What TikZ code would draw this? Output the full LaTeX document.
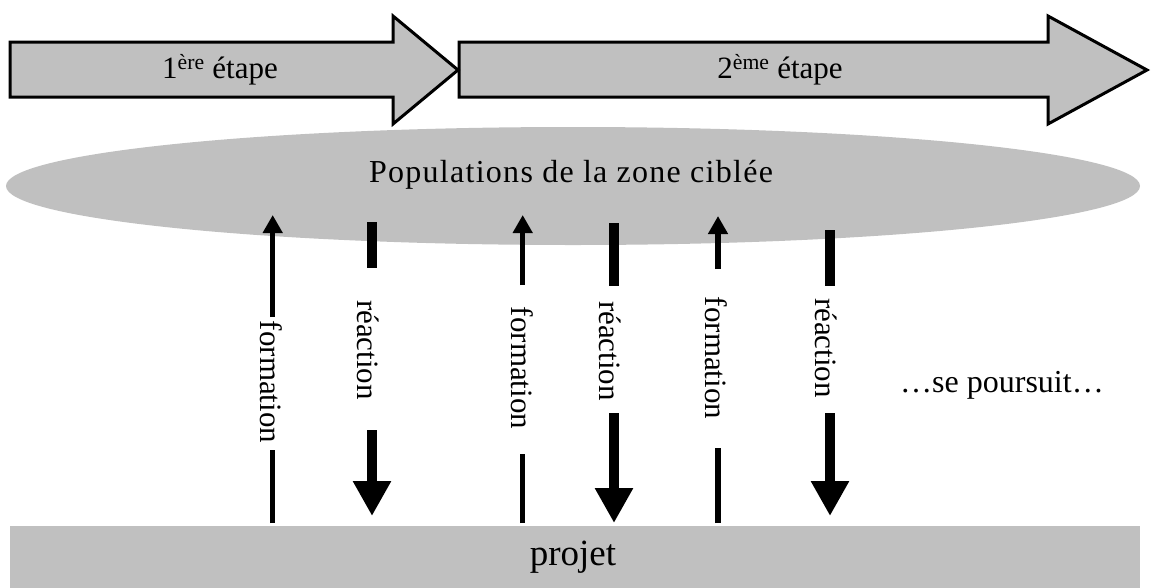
\documentclass[tikz,border=0pt]{standalone}
\usepackage{fontspec}
\setmainfont{Liberation Serif}
\usetikzlibrary{arrows.meta,calc}
\definecolor{stepgray}{RGB}{192,192,192}
\begin{document}
\begin{tikzpicture}[x=1pt,y=-1pt,
  stepshape/.style={draw=black,line width=3pt,fill=stepgray,line join=miter},
  lbl/.style={font=\fontsize{31}{37}\selectfont,inner sep=0pt},
  vlbl/.style={lbl,rotate=-90},
  formline/.style={line width=5.5pt},
  formarrow/.style={formline,-{Triangle[length=18pt,width=19pt]}},
  reacline/.style={line width=10pt},
  reacarrow/.style={reacline,-{Triangle[length=35pt,width=36pt]}}]
\useasboundingbox (0,0) rectangle (1151,587);
% background shapes
\fill[stepgray] (573,186) ellipse [x radius=567, y radius=59];
\fill[stepgray] (10,526) rectangle (1140,590);
\node[lbl,anchor=base,font=\fontsize{32}{38}\selectfont] (pop) at (571,182) {\addfontfeature{LetterSpace=4}Populations de la zone ciblée};
\node[lbl,anchor=base,font=\fontsize{37}{44}\selectfont] (proj) at (573,565) {projet};
% stage arrows
\draw[stepshape] (459,42) -- (1048,42) -- (1048,16) -- (1147,70) -- (1048,124) -- (1048,97) -- (459,97) -- cycle;
\draw[stepshape] (10,42) -- (393,42) -- (393,16) -- (458,70) -- (393,124) -- (393,97) -- (10,97) -- cycle;
\node[lbl] (s1) at (220,70) {1\textsuperscript{ère} étape};
\node[lbl] (s2) at (780,70) {2\textsuperscript{ème} étape};
% vertical labels
\node[vlbl] (f1) at (271.5,382) {formation};
\node[vlbl] (r1) at (368.5,350) {réaction};
\node[vlbl] (f2) at (522.5,368) {formation};
\node[vlbl] (r2) at (610,351) {réaction};
\node[vlbl] (f3) at (716.5,358) {formation};
\node[vlbl] (r3) at (826.5,348) {réaction};
\node[lbl,anchor=base,font=\fontsize{32}{38}\selectfont] (cont) at (1002,392) {…se poursuit…};
% formation connectors
\coordinate (f1a) at (272.7,523); \coordinate (f1b) at (272.7,450);
\coordinate (f1c) at (272.7,317); \coordinate (f1d) at (272.7,215);
\draw[formline] (f1a) -- (f1b);
\draw[formarrow] (f1c) -- (f1d);
\coordinate (f2a) at (522.7,523); \coordinate (f2b) at (522.7,454);
\coordinate (f2c) at (522.7,285); \coordinate (f2d) at (522.7,215);
\draw[formline] (f2a) -- (f2b);
\draw[formarrow] (f2c) -- (f2d);
\coordinate (f3a) at (718,523); \coordinate (f3b) at (718,448);
\coordinate (f3c) at (718,269); \coordinate (f3d) at (718,216);
\draw[formline] (f3a) -- (f3b);
\draw[formarrow] (f3c) -- (f3d);
% reaction connectors
\coordinate (r1a) at (372,222); \coordinate (r1b) at (372,268);
\coordinate (r1c) at (372,430); \coordinate (r1d) at (372,516);
\draw[reacline] (r1a) -- (r1b);
\draw[reacarrow] (r1c) -- (r1d);
\coordinate (r2a) at (614,223); \coordinate (r2b) at (614,286);
\coordinate (r2c) at (614,413); \coordinate (r2d) at (614,523);
\draw[reacline] (r2a) -- (r2b);
\draw[reacarrow] (r2c) -- (r2d);
\coordinate (r3a) at (830,230); \coordinate (r3b) at (830,286);
\coordinate (r3c) at (830,413); \coordinate (r3d) at (830,516);
\draw[reacline] (r3a) -- (r3b);
\draw[reacarrow] (r3c) -- (r3d);
\end{tikzpicture}
\end{document}
